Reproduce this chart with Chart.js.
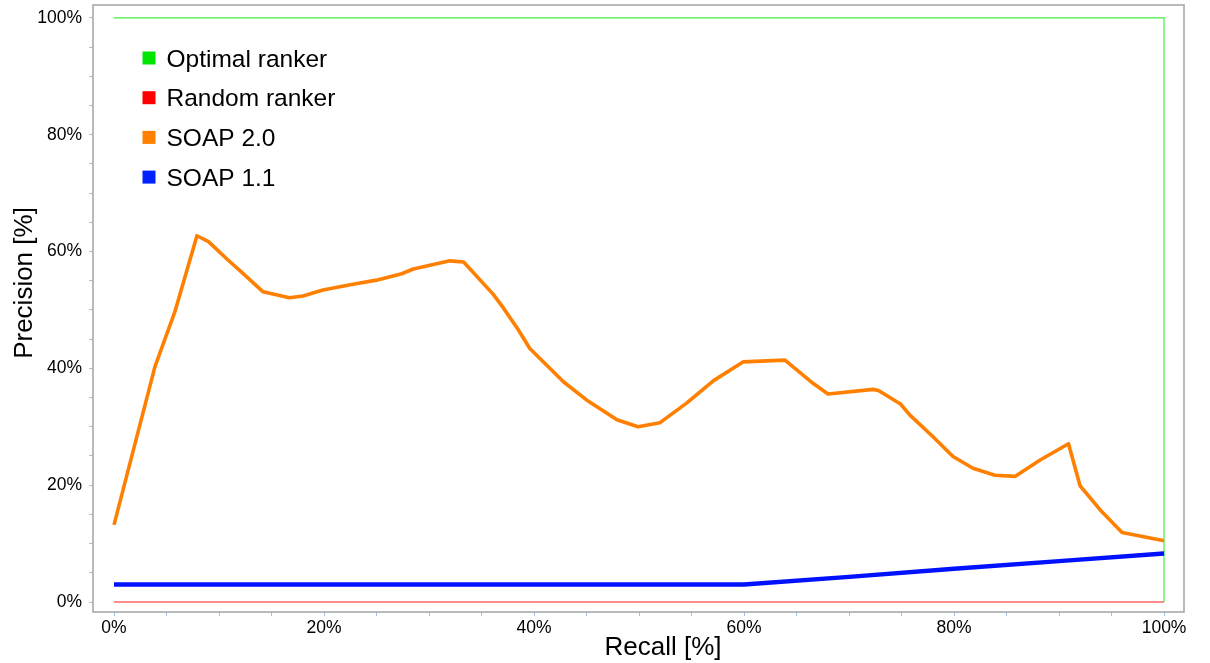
<!DOCTYPE html>
<html>
<head>
<meta charset="utf-8">
<title>Precision / Recall</title>
<script src="https://cdn.jsdelivr.net/npm/chart.js@4/dist/chart.umd.min.js"></script>
<style>
  html, body { margin: 0; padding: 0; background: #ffffff; }
  #wrap { width: 1210px; height: 663px; }
</style>
</head>
<body>
<div id="wrap"><canvas id="pr" width="1210" height="663"></canvas></div>
<script>
// Series labels (legend order)
const seriesNames = ['Optimal ranker', 'Random ranker', 'SOAP 2.0', 'SOAP 1.1'];

// Optimal ranker: perfect precision up to full recall
const optimalRecall    = [0, 100, 100];
const optimalPrecision = [100, 100, 0];

// Random ranker
const randomRecall    = [0, 100];
const randomPrecision = [0, 0];

// SOAP 2.0 precision/recall curve
const soap20Recall = [0, 3.9, 5.8, 7.9, 9.0, 10.7, 12.2, 14.2, 16.7, 18.0, 19.9, 22.5, 25.0, 27.4, 28.5,
  32.0, 33.3, 36.1, 37.1, 38.5, 39.6, 40.9, 42.8, 45.0, 47.9, 49.9, 52.0, 54.5, 57.1, 59.9,
  63.9, 66.6, 68.0, 72.3, 72.8, 74.9, 75.8, 78.0, 79.9, 81.8, 83.9, 85.8, 88.2, 90.9, 92.0,
  93.9, 96.0, 100];
const soap20Precision = [13.2, 40.3, 49.7, 62.7, 61.7, 58.8, 56.4, 53.1, 52.1, 52.4, 53.4, 54.3, 55.1, 56.2, 57.0,
  58.4, 58.2, 52.7, 50.3, 46.6, 43.4, 41.1, 37.7, 34.6, 31.2, 30.0, 30.7, 34.0, 37.9, 41.1,
  41.4, 37.4, 35.6, 36.4, 36.2, 33.9, 32.0, 28.3, 24.9, 22.9, 21.7, 21.5, 24.3, 27.1, 19.9,
  15.8, 11.9, 10.5];

// SOAP 1.1 precision/recall curve
const soap11Recall    = [0, 60, 70, 80, 90, 100];
const soap11Precision = [3.0, 3.0, 4.3, 5.7, 7.0, 8.3];

// Axis ticks (minor every 5 %, labelled every 20 %)
const tickValues  = [0, 5, 10, 15, 20, 25, 30, 35, 40, 45, 50, 55, 60, 65, 70, 75, 80, 85, 90, 95, 100];
const labelledTicks = [0, 20, 40, 60, 80, 100];

const xTitle = 'Recall [%]';
const yTitle = 'Precision [%]';

const legendColors = ['#00e600', '#ff0000', '#ff8000', '#0022ff'];

function zip(xs, ys) { return xs.map((x, i) => ({ x: x, y: ys[i] })); }

const FONT = '"Liberation Sans", Arial, Helvetica, sans-serif';

// Grey frame round the plot box
const framePlugin = {
  id: 'frame',
  afterDraw(chart) {
    const { ctx, chartArea: a } = chart;
    ctx.save();
    ctx.strokeStyle = '#a8a8a8';
    ctx.lineWidth = 1.6;
    ctx.strokeRect(a.left, a.top, a.right - a.left, a.bottom - a.top);
    ctx.restore();
  }
};

// Axis titles
const titlesPlugin = {
  id: 'axisTitles',
  afterDraw(chart) {
    const ctx = chart.ctx;
    ctx.save();
    ctx.fillStyle = '#000000';
    ctx.font = '26px ' + FONT;
    ctx.textAlign = 'center';
    ctx.textBaseline = 'middle';
    ctx.fillText(xTitle, 663, 648);
    ctx.translate(24, 283);
    ctx.rotate(-Math.PI / 2);
    ctx.fillText(yTitle, 0, 1);
    ctx.restore();
  }
};

// Legend drawn inside the plot area
const innerLegendPlugin = {
  id: 'innerLegend',
  afterDraw(chart) {
    const ctx = chart.ctx;
    ctx.save();
    ctx.font = '24.5px ' + FONT;
    ctx.textAlign = 'left';
    ctx.textBaseline = 'middle';
    seriesNames.forEach((name, i) => {
      const cy = 58 + i * 39.7;
      ctx.fillStyle = legendColors[i];
      ctx.fillRect(142.5, cy - 6.5, 13, 13);
      ctx.fillStyle = '#000000';
      ctx.fillText(name, 166.5, cy + 2);
    });
    ctx.restore();
  }
};

function setTicks(scale) {
  scale.ticks = tickValues.map(v => ({ value: v }));
}
function tickLabel(v) {
  return labelledTicks.includes(v) ? v + '%' : '';
}

new Chart(document.getElementById('pr'), {
  type: 'line',
  data: {
    datasets: [
      {
        label: seriesNames[0],
        data: zip(optimalRecall, optimalPrecision),
        borderColor: 'rgba(60, 235, 60, 0.7)',
        borderWidth: 1.6,
        pointRadius: 0,
        order: 4
      },
      {
        label: seriesNames[1],
        data: zip(randomRecall, randomPrecision),
        borderColor: 'rgba(255, 90, 90, 0.7)',
        borderWidth: 2,
        pointRadius: 0,
        order: 3
      },
      {
        label: seriesNames[2],
        data: zip(soap20Recall, soap20Precision),
        borderColor: '#ff8000',
        borderWidth: 3.6,
        borderJoinStyle: 'round',
        pointRadius: 0,
        order: 1
      },
      {
        label: seriesNames[3],
        data: zip(soap11Recall, soap11Precision),
        borderColor: '#0011ff',
        borderWidth: 4.4,
        borderJoinStyle: 'round',
        pointRadius: 0,
        order: 2
      }
    ]
  },
  options: {
    responsive: false,
    devicePixelRatio: 1,
    animation: false,
    events: [],
    layout: { padding: { top: 5, right: 26, left: 0, bottom: 0 } },
    plugins: {
      legend: { display: false },
      tooltip: { enabled: false }
    },
    scales: {
      x: {
        type: 'linear',
        min: -2.0,
        max: 101.9,
        afterBuildTicks: setTicks,
        afterFit(scale) {
          scale.height = 51;
          scale.paddingLeft = 0;
          scale.paddingRight = 0;
        },
        border: { display: false },
        grid: {
          drawOnChartArea: false,
          drawTicks: true,
          tickLength: 4,
          color: '#aac0e6',
          lineWidth: 1
        },
        ticks: {
          autoSkip: false,
          maxRotation: 0,
          padding: 2,
          color: '#000000',
          font: { family: FONT, size: 17.5 },
          callback: tickLabel
        }
      },
      y: {
        type: 'linear',
        min: -1.71,
        max: 102.2,
        afterBuildTicks: setTicks,
        afterFit(scale) {
          scale.width = 93;
          scale.paddingTop = 0;
          scale.paddingBottom = 0;
        },
        border: { display: false },
        grid: {
          drawOnChartArea: false,
          drawTicks: true,
          tickLength: 4,
          color: '#aac0e6',
          lineWidth: 1
        },
        ticks: {
          autoSkip: false,
          padding: 7,
          color: '#000000',
          font: { family: FONT, size: 17.5 },
          callback: tickLabel
        }
      }
    }
  },
  plugins: [framePlugin, titlesPlugin, innerLegendPlugin]
});
</script>
</body>
</html>
